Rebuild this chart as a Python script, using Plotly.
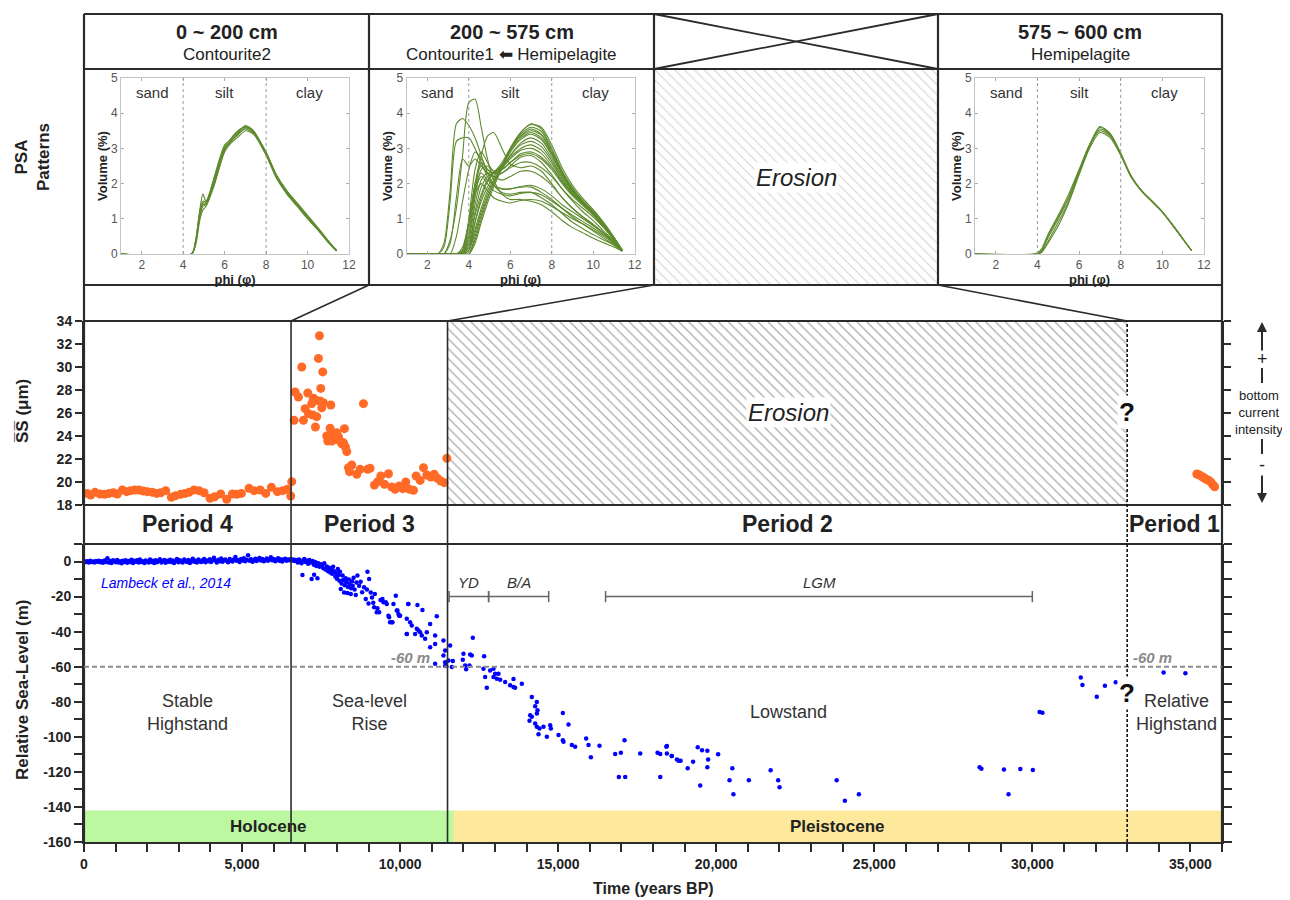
import plotly.graph_objects as go

# ---------------- DATA ----------------
# Sea level (Lambeck et al., 2014) - holocene band
band_t = [20,60,110,150,200,240,290,330,380,420,
          470,510,560,600,650,690,740,780,830,870,
          920,960,1010,1050,1100,1140,1190,1230,1280,1320,
          1370,1410,1460,1500,1550,1590,1640,1680,1730,1770,
          1820,1860,1910,1950,2000,2040,2090,2130,2180,2220,
          2270,2310,2360,2400,2450,2490,2540,2580,2630,2670,
          2720,2760,2810,2850,2900,2940,2990,3030,3080,3120,
          3170,3210,3260,3300,3350,3390,3440,3480,3530,3570,
          3620,3660,3710,3750,3800,3840,3890,3930,3980,4020,
          4070,4110,4160,4200,4250,4290,4340,4380,4430,4470,
          4520,4560,4610,4650,4700,4740,4790,4830,4880,4920,
          4970,5010,5060,5100,5150,5190,5240,5280,5330,5370,
          5420,5460,5510,5550,5600,5640,5690,5730,5780,5820,
          5870,5910,5960,6000,6050,6090,6140,6180,6230,6270,
          6320,6360,6410,6450,6500,6540,6580,6620,6660,6700]
band_v = [0.2,-0.3,0.1,-0.5,0.4,-0.2,0.0,-0.6,0.3,-0.1,
          0.5,-0.4,0.2,-0.7,0.6,-0.2,1.8,-0.5,0.3,-0.9,
          0.7,0.1,-0.4,0.9,-0.6,0.2,-1.0,0.5,-0.2,0.8,
          -0.7,0.3,-0.3,1.0,-0.8,0.4,-0.1,0.7,-0.5,1.2,
          -0.3,0.2,-0.9,0.6,0.0,-0.6,1.1,-0.2,0.4,-0.8,
          0.8,-0.4,0.3,1.3,-0.5,0.1,0.9,-0.7,0.5,-0.1,
          1.0,-0.3,0.6,-0.9,0.2,1.4,-0.4,0.7,0.0,-0.6,
          1.1,0.3,-0.2,0.9,-0.8,0.5,1.6,-0.1,0.4,-0.5,
          1.2,0.2,-0.3,0.8,1.5,-0.4,0.6,0.1,1.3,-0.2,
          0.9,2.2,0.4,-0.5,1.0,0.2,1.7,-0.1,0.7,1.2,
          0.3,-0.4,1.5,0.6,0.0,1.1,2.6,0.4,0.9,-0.2,
          1.4,0.6,1.8,0.2,1.0,3.6,0.5,1.3,-0.1,0.8,
          1.6,0.3,1.1,2.0,0.6,1.4,0.1,0.9,1.7,0.4,
          1.2,2.4,0.7,1.5,0.2,1.0,1.8,0.5,1.3,0.0,
          0.9,1.6,0.4,1.1,0.7,1.4,0.6,1.2,0.3,0.9]

rise_t = [6720,6760,6800,6840,6880,6910,6930,6970,7010,7050,
          7090,7130,7170,7200,7230,7270,7280,7310,7350,7384,
          7400,7450,7490,7530,7570,7600,7640,7680,7720,7750,
          7790,7820,7850,7880,7910,7950,7980,8000,8030,8060,
          8080,8100,8123,8150,8180,8200,8228,8250,8280,8300,
          8334,8350,8380,8400,8439,8450,8480,8500,8530,8560,
          8597,8620,8650,8703,8750,8861,8914,8967,9019,9072,
          9178,9262,9283,9336,9441,9547,9652,9757,9863,9916,
          9969,10253,10211,9110,9200,9380,8800,8950,9000,9150]
rise_v = [0.8,-0.5,1.2,0.2,-1.0,-7.7,0.6,1.5,-0.3,0.4,
          -1.2,0.9,-0.6,-10.0,0.3,-1.8,-7.6,-0.2,-2.5,-9.6,
          -0.9,-3.0,-1.5,-2.2,-3.8,-1.0,-4.5,-2.8,-5.5,-3.6,
          -6.2,-4.5,-7.0,-3.0,-5.5,-8.5,-6.5,-9.8,-4.2,-7.8,
          -11.0,-5.8,-15.7,-12.5,-8.0,-10.5,-17.6,-13.5,-9.5,-11.8,
          -18.0,-14.5,-10.2,-12.8,-18.5,-15.2,-11.2,-13.8,-9.2,-16.0,
          -19.1,-12.0,-8.0,-13.8,-11.5,-14.7,-21.4,-5.9,-10.0,-17.6,
          -26.1,-29.0,-26.7,-29.0,-21.4,-23.3,-31.8,-34.6,-19.5,-28.0,
          -30.9,-24.2,-41.3,-20.5,-18.5,-22.0,-17.5,-16.0,-24.0,-23.5]

deglac_t = [9472,9578,9789,10264,10548,9894,9947,10000,9631,9683,
            9736,10211,10316,10369,10211,10527,10580,10633,10475,10686,
            10844,10791,10950,11160,10707,11108,11108,10950,11371,11424,
            11371,11108,11424,11424,11582,11530,11667,11635,12004,11983,
            12057,12089,12194,12215,12268,12300,12658,12637,12690,12743,
            12848,12954,13006,12954,13059,13112,13165,13323,13481,13587,
            13639,13587,13850,14167,14325,14272,14346,14325,14114,14167,
            14093,14272,14325,14409,14536,14378,14642,14747,14768,15011,
            15148,15169,15148,15327,15433,15538,15886,15960,16034,16308,
            16804,16983,17099,16920,17120,17595,18144,18229,18439,18439,
            18597,18756,18809,18229]
deglac_v = [-23.3,-24.2,-24.2,-24.2,-24.8,-28.0,-29.9,-30.9,-30.9,-34.6,
            -34.6,-32.7,-34.6,-36.5,-41.3,-38.4,-39.4,-40.3,-41.3,-42.2,
            -40.3,-44.1,-35.6,-31.2,-27.6,-42.2,-47.0,-48.9,-45.1,-50.7,
            -53.6,-58.3,-57.4,-59.6,-47.9,-56.4,-56.8,-60.2,-52.6,-56.0,
            -59.3,-61.5,-59.3,-53.0,-53.6,-43.5,-54.1,-61.2,-65.9,-72.0,
            -62.1,-61.2,-64.0,-65.9,-66.8,-64.0,-67.4,-68.7,-70.6,-71.6,
            -72.0,-67.0,-69.7,-77.3,-80.1,-82.6,-84.8,-86.7,-87.7,-88.6,
            -90.9,-92.4,-94.3,-95.3,-94.3,-98.5,-100.0,-93.4,-95.3,-99.0,
            -101.9,-102.8,-86.4,-93.0,-104.7,-105.7,-100.9,-104.7,-111.7,-105.1,
            -109.8,-109.1,-101.9,-122.9,-122.9,-109.5,-109.1,-109.8,-105.3,-109.5,
            -111.0,-112.9,-113.6,-122.9]

low_t = [18421,18589,18873,19098,19269,19415,19551,19719,19744,19719,
         20060,19494,20510,20421,20544,21032,21722,21959,22003,23810,
         24070,24513,28332,28389,29101,29620,30016,29247,30231,30320,
         31532,31585,32038,32297,32639,34152,34842]
low_v = [-105.7,-111.0,-113.6,-117.9,-114.2,-106.0,-107.6,-107.9,-112.9,-117.4,
         -110.0,-127.8,-117.9,-124.8,-132.7,-124.8,-119.1,-124.8,-128.8,-124.8,
         -136.4,-132.7,-117.4,-118.2,-118.6,-118.4,-118.9,-132.7,-85.8,-86.3,
         -66.1,-70.4,-77.1,-70.8,-68.9,-63.3,-63.7]

# Sortable silt mean size (SS, um)
ss4_t = [105,211,348,506,654,791,928,1055,1213,1350,
         1477,1603,1741,1878,2004,2163,2300,2426,2585,2764,
         2901,3059,3196,3323,3481,3639,3798,3988,4135,4325,
         4515,4694,4831,4979,5222,5380,5570,5749,5929,6118,
         6287,6435,6572,6540]
ss4_v = [19.01,18.87,19.10,18.96,18.93,19.01,19.07,18.96,19.30,19.16,
         19.25,19.30,19.30,19.22,19.16,19.10,19.01,19.07,19.25,18.67,
         18.81,18.93,19.01,19.10,19.30,19.25,19.07,18.58,18.72,18.96,
         18.49,18.96,18.93,19.01,19.45,19.25,19.30,19.01,19.54,19.16,
         19.25,19.36,20.03,18.78]
ss3_t = [7448,7416,6889,7553,7490,6678,6783,7079,7258,7342,
         7205,7469,7574,7807,7522,6994,7100,7237,7363,6646,
         6941,7321,8840,7785,8239,7680,7764,7891,7944,7997,
         8049,7838,7712,8102,8155,8207,8271,8313,8366,8471,
         8397,8629,8735,8967,9051,9188,9294,9389,9505,9631,
         9737,9842,9969,10085,10180,10296,10423,10507,10634,10740,
         10845,10971,11077,11182,11288,11393,11478]
ss3_v = [32.72,30.75,30.00,29.57,28.14,27.83,27.39,27.74,27.28,27.10,
         26.81,27.04,26.90,26.70,26.46,26.38,25.94,25.83,25.68,25.36,
         25.36,24.78,26.81,24.67,24.64,24.00,23.86,24.14,23.71,24.29,
         23.91,23.57,23.57,23.57,23.33,23.42,23.04,22.64,21.25,21.48,
         20.90,20.67,21.10,21.10,21.19,19.74,20.03,20.52,19.80,20.72,
         19.57,19.36,19.65,19.42,20.00,19.36,19.28,20.52,20.14,21.25,
         20.61,20.43,20.67,20.32,20.09,19.94,22.06]
ss1_t = [35203,35290,35374,35440,35503,35570,35633,35700,35766]
ss1_v = [20.70,20.60,20.46,20.35,20.23,20.15,20.03,19.80,19.59]

# PSA patterns (phi, volume %)
psa1_phi = [1, 4.4, 4.6, 4.8, 4.95, 5.1, 5.5, 6.0, 6.3, 6.6, 7.0, 7.4, 8.0, 8.5, 9.0, 9.5, 10.0, 10.5, 11.0, 11.4]
psa1_curves = [
    [0, 0, 0.35, 1.25, 1.70, 1.50, 2.10, 3.00, 3.20, 3.40, 3.65, 3.50, 2.85, 2.20, 1.75, 1.40, 1.05, 0.70, 0.35, 0.10],
    [0, 0, 0.30, 1.05, 1.35, 1.40, 2.00, 2.90, 3.15, 3.30, 3.50, 3.40, 2.80, 2.15, 1.70, 1.35, 1.00, 0.68, 0.32, 0.08],
    [0, 0, 0.35, 1.15, 1.45, 1.45, 2.20, 3.10, 3.25, 3.45, 3.60, 3.45, 2.90, 2.25, 1.80, 1.45, 1.10, 0.75, 0.38, 0.10],
    [0, 0, 0.25, 0.95, 1.25, 1.35, 1.95, 2.95, 3.20, 3.38, 3.55, 3.42, 2.86, 2.18, 1.74, 1.38, 1.04, 0.70, 0.34, 0.09],
    [0, 0, 0.40, 1.20, 1.50, 1.48, 2.15, 3.05, 3.28, 3.48, 3.62, 3.48, 2.88, 2.22, 1.78, 1.42, 1.08, 0.72, 0.36, 0.10],
    [0, 0, 0.30, 1.10, 1.40, 1.42, 2.05, 2.98, 3.22, 3.36, 3.58, 3.46, 2.84, 2.20, 1.76, 1.40, 1.06, 0.71, 0.35, 0.09],
]
psa2_phi = [1, 2.5, 2.8, 3.1, 3.4, 3.7, 4.0, 4.3, 4.6, 4.9, 5.2, 5.6, 6.0, 6.5, 7.0, 7.5, 8.0, 8.5, 9.0, 9.5, 10.0, 10.5, 11.0, 11.4]
psa2_curves = [
    [0, 0, 0, 0.4, 1.3, 2.8, 4.3, 4.4, 3.6, 2.7, 2.1, 1.7, 1.55, 1.55, 1.5, 1.4, 1.2, 0.95, 0.75, 0.6, 0.45, 0.32, 0.2, 0.08],
    [0, 0, 0.3, 1.8, 3.7, 3.85, 3.65, 3.3, 2.8, 2.3, 1.95, 1.75, 1.7, 1.75, 1.75, 1.6, 1.4, 1.15, 0.9, 0.72, 0.55, 0.4, 0.25, 0.08],
    [0, 0, 0.2, 1.5, 3.2, 3.3, 3.3, 3.0, 2.6, 2.2, 1.95, 1.85, 1.85, 1.9, 1.9, 1.75, 1.55, 1.3, 1.05, 0.85, 0.65, 0.45, 0.27, 0.08],
    [0, 0, 0, 0, 0, 0.2, 0.9, 2.0, 2.8, 3.35, 3.45, 3.0, 2.55, 2.45, 2.5, 2.35, 2.0, 1.6, 1.3, 1.05, 0.85, 0.6, 0.35, 0.1],
    [0, 0, 0, 0.3, 1.6, 2.7, 2.5, 2.7, 2.5, 2.3, 2.2, 2.1, 2.2, 2.35, 2.35, 2.2, 1.95, 1.6, 1.3, 1.05, 0.82, 0.6, 0.35, 0.1],
    [0, 0, 0, 0, 0.5, 1.5, 2.4, 2.9, 2.7, 2.4, 2.3, 2.3, 2.5, 2.75, 2.8, 2.6, 2.25, 1.85, 1.5, 1.2, 0.95, 0.65, 0.38, 0.1],
    [0, 0, 0, 0, 0, 0, 0, 0.5, 1.1, 1.6, 2.0, 2.5, 3.0, 3.45, 3.7, 3.55, 3.0, 2.35, 1.85, 1.5, 1.2, 0.85, 0.45, 0.1],
    [0, 0, 0, 0, 0, 0, 0.1, 0.7, 1.3, 1.8, 2.1, 2.5, 2.95, 3.35, 3.55, 3.4, 2.9, 2.3, 1.82, 1.5, 1.2, 0.85, 0.45, 0.1],
    [0, 0, 0, 0, 0, 0, 0.2, 0.9, 1.5, 1.9, 2.2, 2.5, 2.9, 3.25, 3.4, 3.25, 2.8, 2.25, 1.8, 1.48, 1.18, 0.82, 0.45, 0.1],
    [0, 0, 0, 0, 0, 0, 0.3, 1.1, 1.7, 2.1, 2.3, 2.5, 2.8, 3.1, 3.2, 3.05, 2.65, 2.15, 1.75, 1.45, 1.15, 0.8, 0.43, 0.1],
    [0, 0, 0, 0, 0, 0.05, 0.6, 1.8, 2.6, 2.4, 2.3, 2.45, 2.7, 2.95, 3.0, 2.85, 2.5, 2.05, 1.7, 1.4, 1.12, 0.78, 0.42, 0.1],
    [0, 0, 0, 0, 0, 0.1, 1.0, 2.4, 2.9, 2.6, 2.35, 2.4, 2.6, 2.8, 2.85, 2.7, 2.4, 2.0, 1.65, 1.38, 1.1, 0.77, 0.42, 0.1],
    [0, 0, 0, 0, 0, 0.1, 0.8, 2.0, 2.5, 2.3, 2.2, 2.3, 2.45, 2.6, 2.6, 2.45, 2.2, 1.85, 1.55, 1.3, 1.05, 0.75, 0.4, 0.1],
    [0, 0, 0, 0, 0, 0.1, 0.9, 1.9, 2.3, 2.1, 1.95, 1.85, 1.85, 1.92, 1.95, 1.85, 1.65, 1.4, 1.2, 1.0, 0.8, 0.58, 0.33, 0.1],
    [0, 0, 0, 0, 0, 0.1, 0.9, 1.8, 2.2, 2.0, 1.8, 1.7, 1.65, 1.72, 1.75, 1.68, 1.5, 1.3, 1.1, 0.92, 0.74, 0.54, 0.32, 0.1],
    [0, 0, 0, 0, 0, 0.1, 0.8, 1.7, 2.0, 1.8, 1.6, 1.5, 1.45, 1.52, 1.55, 1.5, 1.35, 1.18, 1.0, 0.85, 0.68, 0.5, 0.3, 0.1],
    [0, 0, 0, 0, 0, 0, 0, 0.3, 0.9, 1.45, 1.9, 2.45, 3.0, 3.45, 3.68, 3.6, 3.1, 2.45, 1.95, 1.58, 1.26, 0.9, 0.48, 0.1],
    [0, 0, 0, 0, 0, 0, 0.1, 0.6, 1.2, 1.7, 2.05, 2.4, 2.8, 3.15, 3.3, 3.15, 2.72, 2.2, 1.78, 1.46, 1.16, 0.82, 0.44, 0.1],
    [0, 0, 0, 0, 0, 0, 0, 0.4, 1.0, 1.55, 2.0, 2.5, 2.98, 3.35, 3.5, 3.38, 2.88, 2.3, 1.84, 1.5, 1.2, 0.85, 0.46, 0.1],
    [0, 0, 0, 0, 0, 0, 0.4, 1.4, 2.1, 2.3, 2.3, 2.4, 2.6, 2.85, 2.9, 2.75, 2.45, 2.05, 1.7, 1.4, 1.12, 0.78, 0.42, 0.1],
    [0, 0, 0, 0, 0, 0, 0.5, 1.6, 2.4, 2.5, 2.35, 2.5, 2.75, 3.0, 3.1, 2.95, 2.58, 2.1, 1.72, 1.43, 1.14, 0.8, 0.43, 0.1],
    [0, 0, 0, 0, 0, 0, 0.2, 1.2, 1.9, 2.2, 2.3, 2.55, 2.9, 3.3, 3.45, 3.3, 2.85, 2.28, 1.82, 1.48, 1.18, 0.83, 0.45, 0.1],
    [0, 0, 0, 0, 0, 0, 0.1, 0.9, 1.6, 2.05, 2.3, 2.6, 3.0, 3.4, 3.6, 3.48, 2.95, 2.35, 1.88, 1.52, 1.22, 0.86, 0.46, 0.1],
]
psa4_phi = [1, 3.9, 4.2, 4.5, 5.0, 5.5, 6.0, 6.5, 7.0, 7.5, 8.0, 8.5, 9.0, 9.5, 10.0, 10.5, 11.0, 11.4]
psa4_curves = [
    [0, 0, 0.10, 0.45, 1.00, 1.60, 2.35, 3.10, 3.60, 3.40, 2.85, 2.20, 1.80, 1.50, 1.20, 0.82, 0.42, 0.10],
    [0, 0, 0.05, 0.35, 0.90, 1.50, 2.30, 3.05, 3.55, 3.38, 2.85, 2.20, 1.80, 1.50, 1.20, 0.82, 0.42, 0.10],
    [0, 0, 0.15, 0.55, 1.10, 1.70, 2.40, 3.10, 3.50, 3.35, 2.82, 2.20, 1.80, 1.50, 1.20, 0.82, 0.42, 0.10],
    [0, 0, 0.05, 0.30, 0.80, 1.45, 2.25, 3.00, 3.45, 3.30, 2.80, 2.18, 1.78, 1.48, 1.18, 0.80, 0.41, 0.10],
    [0, 0, 0.10, 0.50, 1.05, 1.60, 2.35, 3.08, 3.62, 3.42, 2.86, 2.22, 1.80, 1.50, 1.20, 0.82, 0.42, 0.10],
]

# Labels / ticks / intervals
time_ticks = [0, 5000, 10000, 15000, 20000, 25000, 30000, 35000]
time_ticktext = ["0", "5,000", "10,000", "15,000", "20,000", "25,000", "30,000", "35,000"]
rsl_ticks = [-160, -140, -120, -100, -80, -60, -40, -20, 0]
rsl_ticktext = ["-160", "-140", "-120", "-100", "-80", "-60", "-40", "-20", "0"]
ss_ticks = [18, 20, 22, 24, 26, 28, 30, 32, 34]
period_bounds = [0, 6550, 11500, 33000, 36000]
period_labels = ["Period 4", "Period 3", "Period 2", "Period 1"]
regime_labels = ["Stable<br>Highstand", "Sea-level<br>Rise", "Lowstand", "Relative<br>Highstand"]
regime_pos = [3275, 9025, 22280, 34550]
epoch_names = ["Holocene", "Pleistocene"]
epoch_bounds = [0, 11700, 36000]
epoch_colors = ["rgba(180,247,150,0.9)", "rgba(253,231,150,0.95)"]
event_names = ["YD", "B/A", "LGM"]
event_start = [11550, 12800, 16500]
event_end = [12800, 14700, 30000]
event_level = -20
ref_level = -60
header_depths = ["0 ~ 200 cm", "200 ~ 575 cm", "575 ~ 600 cm"]
header_facies = ["Contourite2", "Contourite1 \u2b05 Hemipelagite", "Hemipelagite"]
size_classes = ["sand", "silt", "clay"]
size_class_pos = [2.5, 6.0, 10.1]
size_class_bounds = [4, 8]

# ---------------- LAYOUT HELPERS ----------------
# the page body has an 8 px margin; positions below are screen pixels
W, H = 1290, 900
OFF = 8
def fx(p): return (p - OFF) / W
def fy(p): return 1 - (p - OFF) / H

XL, XR = 84, 1222
T_MAX = 36000
def t2px(t): return XL + (XR - XL) * t / T_MAX

NARROW = "Liberation Sans Narrow, Arial Narrow, Liberation Sans, sans-serif"
ARIAL = "Liberation Sans, Arial, sans-serif"
DARK = "#2b2b2b"
GREEN = "#5e8a2d"
ORANGE = "#ff6a26"

fig = go.Figure()

# ---- sea-level scatter
for tt, vv in [(band_t, band_v), (rise_t, rise_v), (deglac_t, deglac_v), (low_t, low_v)]:
    fig.add_trace(go.Scatter(x=tt, y=vv, mode="markers", xaxis="x", yaxis="y",
                             marker=dict(size=4.5, color="#0000ff"), hoverinfo="skip"))

# event bars
for nm, s, e in zip(event_names, event_start, event_end):
    fig.add_trace(go.Scatter(x=[s, e], y=[event_level, event_level], mode="lines+markers",
                             xaxis="x", yaxis="y",
                             line=dict(color="#666", width=1.5),
                             marker=dict(symbol="line-ns-open", size=8, line=dict(color="#666", width=1.5)),
                             hoverinfo="skip"))

# ---- SS hatch (erosion)
fig.add_trace(go.Scatter(x=[period_bounds[2], period_bounds[3], period_bounds[3], period_bounds[2], period_bounds[2]],
                         y=[18, 18, 34, 34, 18], mode="lines", fill="toself", xaxis="x2", yaxis="y2",
                         line=dict(width=0), fillcolor="white",
                         fillpattern=dict(shape="\\", fgcolor="#5a5a5a", bgcolor="white", size=7, solidity=0.18),
                         hoverinfo="skip"))
# SS points
for tt, vv in [(ss4_t, ss4_v), (ss3_t, ss3_v), (ss1_t, ss1_v)]:
    fig.add_trace(go.Scatter(x=tt, y=vv, mode="markers", xaxis="x2", yaxis="y2",
                             marker=dict(size=9, color=ORANGE), hoverinfo="skip"))

# ---- top erosion hatch
fig.add_trace(go.Scatter(x=[0, 1, 1, 0, 0], y=[0, 0, 1, 1, 0], mode="lines", fill="toself",
                         xaxis="x6", yaxis="y6", line=dict(width=0), fillcolor="white",
                         fillpattern=dict(shape="\\", fgcolor="#a8a8a8", bgcolor="white", size=7, solidity=0.15),
                         hoverinfo="skip"))

# ---- PSA curves
for ax, phi, curves in [("3", psa1_phi, psa1_curves), ("4", psa2_phi, psa2_curves), ("5", psa4_phi, psa4_curves)]:
    for c in curves:
        fig.add_trace(go.Scatter(x=phi, y=c, mode="lines", xaxis="x" + ax, yaxis="y" + ax,
                                 line=dict(color=GREEN, width=1.1, shape="spline", smoothing=0.7),
                                 hoverinfo="skip"))

# ---------------- AXES ----------------
tick_font_b = dict(family=ARIAL, size=14, color="#222", weight="bold")
layout = dict(
    width=W, height=H, margin=dict(l=0, r=0, t=0, b=0, autoexpand=False),
    paper_bgcolor="white", plot_bgcolor="rgba(0,0,0,0)", showlegend=False,
    xaxis=dict(domain=[fx(XL), fx(XR)], range=[0, T_MAX], anchor="y", automargin=False,
               tickvals=time_ticks, ticktext=time_ticktext, ticks="outside", ticklen=8,
               tickwidth=1.5, tickcolor=DARK, tickfont=tick_font_b,
               minor=dict(dtick=1000, tick0=0, ticks="outside", ticklen=8, tickwidth=1.5, tickcolor=DARK),
               showline=True, linecolor=DARK, linewidth=2, showgrid=False, zeroline=False),
    yaxis=dict(domain=[fy(842), fy(544)], range=[-160, 10], anchor="x", automargin=False,
               tickvals=rsl_ticks, ticktext=rsl_ticktext, ticks="outside", ticklen=8,
               tickwidth=1.5, tickcolor=DARK, tickfont=tick_font_b,
               minor=dict(dtick=10, tick0=0, ticks="outside", ticklen=8, tickwidth=1.5, tickcolor=DARK),
               showline=True, linecolor=DARK, linewidth=2, mirror="ticks",
               showgrid=False, zeroline=False),
    xaxis2=dict(domain=[fx(XL), fx(XR)], range=[0, T_MAX], anchor="y2", showticklabels=False,
                automargin=False, ticks="", showline=False, showgrid=False, zeroline=False),
    yaxis2=dict(domain=[fy(505), fy(321)], range=[18, 34], anchor="x2", automargin=False,
                tickvals=ss_ticks, ticks="outside", ticklen=7, tickwidth=1.5, tickcolor=DARK,
                tickfont=tick_font_b, showline=True, linecolor=DARK, linewidth=2, mirror="ticks",
                showgrid=False, zeroline=False),
    xaxis6=dict(domain=[fx(654), fx(938)], range=[0, 1], anchor="y6", visible=False, automargin=False),
    yaxis6=dict(domain=[fy(285), fy(69)], range=[0, 1], anchor="x6", visible=False, automargin=False),
)
psa_cols = [("3", 121, 349), ("4", 406.6, 634.7), ("5", 975, 1204)]
for ax, a, b in psa_cols:
    layout["xaxis" + ax] = dict(domain=[fx(a), fx(b)], range=[1, 12], anchor="y" + ax, automargin=False,
                               tickvals=[2, 4, 6, 8, 10, 12], ticks="inside", ticklen=3, tickcolor="#aaa",
                               showline=True, linecolor="#c4c4c4", linewidth=1, mirror="ticks",
                               showgrid=False, zeroline=False,
                               tickfont=dict(family=NARROW, size=12, color="#555"),
                               title=dict(text="phi (\u03c6)", standoff=0,
                                          font=dict(family=ARIAL, size=13, color="#222", weight="bold")))
    layout["yaxis" + ax] = dict(domain=[fy(254), fy(78)], range=[0, 5], anchor="x" + ax, automargin=False,
                               tickvals=[0, 1, 2, 3, 4, 5], ticks="inside", ticklen=3, tickcolor="#aaa",
                               showline=True, linecolor="#c4c4c4", linewidth=1, mirror="ticks",
                               showgrid=False, zeroline=False,
                               tickfont=dict(family=NARROW, size=12, color="#555"),
                               title=dict(text="Volume (%)", standoff=0,
                                          font=dict(family=ARIAL, size=13, color="#222", weight="bold")))
fig.update_layout(**layout)

# ---------------- SHAPES ----------------
shapes = []
def pline(x0, y0, x1, y1, w=2.2, color=DARK, dash=None):
    d = dict(type="line", xref="paper", yref="paper", x0=fx(x0), y0=fy(y0), x1=fx(x1), y1=fy(y1),
             line=dict(color=color, width=w))
    if dash:
        d["line"]["dash"] = dash
    shapes.append(d)

for yy in [14, 69, 285, 321, 505, 544]:
    pline(XL, yy, XR, yy)
pline(XL, 14, XL, 842)
pline(XR, 14, XR, 842)
for xx in [369, 654, 938]:
    pline(xx, 14, xx, 285)
pline(654, 14, 938, 69, w=1.8)
pline(654, 69, 938, 14, w=1.8)
# connectors from PSA columns to time boundaries
pline(369, 285, t2px(period_bounds[1]), 321, w=1.6)
pline(654, 285, t2px(period_bounds[2]), 321, w=1.6)
pline(938, 285, t2px(period_bounds[3]), 321, w=1.6)

# epoch bands
for i, nm in enumerate(epoch_names):
    shapes.append(dict(type="rect", xref="x", yref="y", x0=epoch_bounds[i], x1=epoch_bounds[i + 1],
                       y0=-160, y1=-142, fillcolor=epoch_colors[i], line=dict(width=0), layer="below"))
# -60 m reference
shapes.append(dict(type="line", xref="x", yref="y", x0=0, x1=T_MAX, y0=ref_level, y1=ref_level,
                   line=dict(color="#8a8a8a", width=2, dash="5px,3px")))
# period boundaries
for b in period_bounds[1:3]:
    shapes.append(dict(type="line", xref="x", yref="paper", x0=b, x1=b, y0=fy(842), y1=fy(321),
                       line=dict(color=DARK, width=1.6)))
shapes.append(dict(type="line", xref="x", yref="paper", x0=period_bounds[3], x1=period_bounds[3],
                   y0=fy(842), y1=fy(321), line=dict(color="#111", width=1.6, dash="3px,2px")))

# PSA dotted class boundaries
for ax, a, b in psa_cols:
    for bnd in size_class_bounds:
        shapes.append(dict(type="line", xref="x" + ax, yref="y" + ax, x0=bnd, x1=bnd, y0=0, y1=5,
                           line=dict(color="#999", width=1, dash="dot")))

# right-side intensity scale segments
pline(1262, 368, 1262, 383, w=2)
pline(1262, 439, 1262, 454, w=2)

fig.update_layout(shapes=shapes)

# ---------------- ANNOTATIONS ----------------
ann = []
def ptext(x, y, text, size, family=NARROW, color="#222", weight="normal", style="normal", angle=0, **kw):
    ann.append(dict(xref="paper", yref="paper", x=fx(x), y=fy(y), text=text, showarrow=False,
                    textangle=angle, xanchor=kw.get("xanchor", "center"), yanchor="middle",
                    font=dict(family=family, size=size, color=color, weight=weight, style=style),
                    bgcolor=kw.get("bgcolor", "rgba(0,0,0,0)")))

col_centers = [226.5, 511.5, 1080]
for cx, d, f in zip(col_centers, header_depths, header_facies):
    ptext(cx, 32, d, 20, family=NARROW, weight="bold")
    ptext(cx, 54, f, 17, family=NARROW)

ptext(32, 157, "PSA<br>Patterns", 17, family=ARIAL, weight="bold", angle=-90)
ptext(22, 411, "S\u0305S\u0305 (\u03bcm)", 17, family=ARIAL, weight="bold", angle=-90)
ptext(22, 690, "Relative Sea-Level (m)", 17, family=ARIAL, weight="bold", angle=-90)
ptext(653, 888, "Time (years BP)", 16, family=ARIAL, weight="bold")

# top erosion
ptext(796, 177, "Erosion", 24, style="italic", bgcolor="white")

# period row
for i, lab in enumerate(period_labels):
    cx = t2px((period_bounds[i] + period_bounds[i + 1]) / 2)
    ptext(cx, 524, lab, 23, weight="bold")

# right-side scale
ann.append(dict(xref="paper", yref="paper", x=fx(1262), y=fy(322), ax=0, ay=30, text="",
                showarrow=True, arrowhead=2, arrowsize=1, arrowwidth=2, arrowcolor=DARK))
ann.append(dict(xref="paper", yref="paper", x=fx(1262), y=fy(503), ax=0, ay=-29, text="",
                showarrow=True, arrowhead=2, arrowsize=1, arrowwidth=2, arrowcolor=DARK))
ptext(1262, 359, "+", 18)
ptext(1259, 412, "bottom<br>current<br>intensity", 13)
ptext(1262, 465, "-", 18)

def dtext(axx, axy, x, y, text, size, color="#222", weight="normal", style="normal", bg=None, xanchor="center"):
    d = dict(xref=axx, yref=axy, x=x, y=y, text=text, showarrow=False, xanchor=xanchor, yanchor="middle",
             font=dict(family=NARROW, size=size, color=color, weight=weight, style=style))
    if bg:
        d["bgcolor"] = bg
    ann.append(d)

# SS panel
dtext("x2", "y2", 22280, 26, "Erosion", 24, style="italic", bg="white")
dtext("x2", "y2", period_bounds[3], 26.1, "?", 26, color="#111", weight="bold", bg="white")

# sea-level panel
dtext("x", "y", 475, -12, "Lambeck et al., 2014", 14, color="#0000ff", style="italic", xanchor="left")
for nm, s, e in zip(event_names, event_start, event_end):
    cx = (s + e) / 2 if nm != "LGM" else 23260
    dtext("x", "y", cx, -12, nm, 15, color="#333", style="italic")
dtext("x", "y", 10320, -54.7, "-60 m", 15, color="#8a8a8a", weight="bold", style="italic")
dtext("x", "y", 33810, -54.5, "-60 m", 15, color="#8a8a8a", weight="bold", style="italic")
dtext("x", "y", period_bounds[3], -75, "?", 26, color="#111", weight="bold", bg="white")
for lab, px_ in zip(regime_labels, regime_pos):
    dtext("x", "y", px_, -86, lab, 18, color="#333")
for i, nm in enumerate(epoch_names):
    dtext("x", "y", (epoch_bounds[i] + epoch_bounds[i + 1]) / 2, -151, nm, 17, color="#222", weight="bold")

# PSA class labels
for ax, a, b in psa_cols:
    for nm, p in zip(size_classes, size_class_pos):
        dtext("x" + ax, "y" + ax, p, 4.6, nm, 15, color="#333")

fig.update_layout(annotations=ann)
fig.write_html("out.html")
